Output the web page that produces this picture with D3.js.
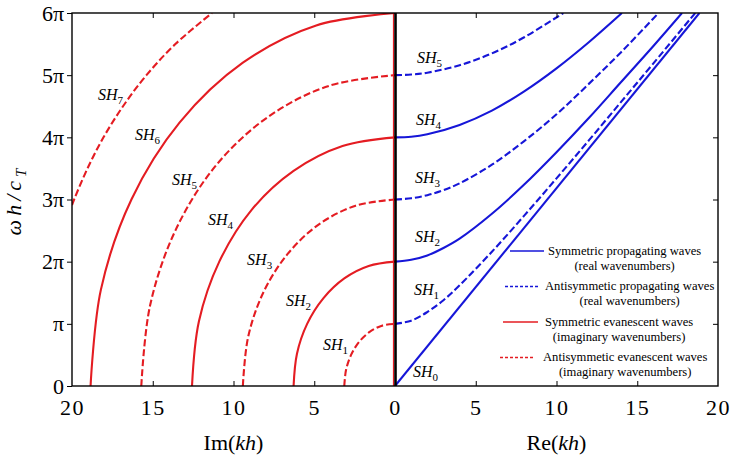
<!DOCTYPE html>
<html>
<head>
<meta charset="utf-8">
<script src="https://cdn.jsdelivr.net/npm/d3@7"></script>
<style>
  html, body { margin: 0; padding: 0; background: #fff; }
  svg { display: block; }
  svg text { font-family: "Liberation Serif", "Times New Roman", Times, Tinos, "Nimbus Roman", "Nimbus Roman No9 L", FreeSerif, "Noto Serif", "DejaVu Serif", serif !important; fill: #000; }
</style>
</head>
<body>
<svg id="chart" width="730" height="462"></svg>
<script>
// ---- data (kh, omega*h/(c_T*pi)) ----
const xTicksLeft = [20, 15, 10, 5, 0];
const xTicksRight = [5, 10, 15, 20];
const yTicks = [0, 1, 2, 3, 4, 5, 6];
const yTickLabels = ["0", "π", "2π", "3π", "4π", "5π", "6π"];

// propagating (real wavenumbers), right half
const propSH0 = [[0, 0], [18.85, 6]];
const propSH1 = [[0, 1], [1, 1.05], [2, 1.19], [3, 1.38], [4, 1.62], [6, 2.16], [8, 2.74], [10, 3.34], [12, 3.95], [14, 4.57], [16, 5.19], [18.59, 6]];
const propSH2 = [[0, 2], [1, 2.03], [2, 2.10], [3, 2.22], [4, 2.37], [6, 2.77], [8, 3.24], [10, 3.76], [12, 4.31], [14, 4.89], [16, 5.47], [17.77, 6]];
const propSH3 = [[0, 3], [1, 3.02], [2, 3.07], [3, 3.15], [4, 3.26], [6, 3.56], [8, 3.94], [10, 4.37], [12, 4.86], [14, 5.37], [16.32, 6]];
const propSH4 = [[0, 4], [1, 4.01], [2, 4.05], [4, 4.20], [6, 4.43], [8, 4.74], [10, 5.11], [12, 5.53], [14.05, 6]];
const propSH5 = [[0, 5], [1, 5.01], [2, 5.04], [4, 5.16], [6, 5.35], [8, 5.61], [10.42, 6]];

// evanescent (imaginary wavenumbers), left half
const evanSH1 = [[3.14, 0], [3.03, 0.26], [2.72, 0.5], [2.22, 0.71], [1.57, 0.87], [0.81, 0.97], [0, 1]];
const evanSH2 = [[6.28, 0], [6.07, 0.52], [5.44, 1], [4.44, 1.41], [3.14, 1.73], [1.63, 1.93], [0, 2]];
const evanSH3 = [[9.42, 0], [9.10, 0.78], [8.16, 1.5], [6.66, 2.12], [4.71, 2.60], [2.44, 2.90], [0, 3]];
const evanSH4 = [[12.57, 0], [12.14, 1.04], [10.88, 2], [8.89, 2.83], [6.28, 3.46], [3.25, 3.86], [0, 4]];
const evanSH5 = [[15.71, 0], [15.17, 1.29], [13.60, 2.5], [11.11, 3.54], [7.85, 4.33], [4.07, 4.83], [0, 5]];
const evanSH6 = [[18.85, 0], [18.21, 1.55], [16.32, 3], [13.33, 4.24], [9.42, 5.20], [4.88, 5.80], [0, 6]];
const evanSH7 = [[20, 2.91], [19.87, 3], [19.04, 3.5], [18.05, 4], [16.84, 4.5], [15.39, 5], [13.60, 5.5], [11.33, 6]];

const propagating = [propSH0, propSH1, propSH2, propSH3, propSH4, propSH5];
const evanescent = [null, evanSH1, evanSH2, evanSH3, evanSH4, evanSH5, evanSH6, evanSH7];

// mode labels: side, mode number, position in data units
const modeLabels = [
  { side: "L", n: 7, k: 18.39, w: 4.60 },
  { side: "L", n: 6, k: 16.10, w: 3.96 },
  { side: "L", n: 5, k: 13.81, w: 3.23 },
  { side: "L", n: 4, k: 11.58, w: 2.59 },
  { side: "L", n: 3, k: 9.16, w: 1.95 },
  { side: "L", n: 2, k: 6.75, w: 1.29 },
  { side: "L", n: 1, k: 4.46, w: 0.58 },
  { side: "R", n: 5, k: 1.36, w: 5.20 },
  { side: "R", n: 4, k: 1.30, w: 4.20 },
  { side: "R", n: 3, k: 1.24, w: 3.27 },
  { side: "R", n: 2, k: 1.24, w: 2.32 },
  { side: "R", n: 1, k: 1.18, w: 1.46 },
  { side: "R", n: 0, k: 1.11, w: 0.14 }
];

const legendItems = [
  { color: "blue", dashed: false, line1: "Symmetric propagating waves", line2: "(real wavenumbers)" },
  { color: "blue", dashed: true, line1: "Antisymmetic propagating waves", line2: "(real wavenumbers)" },
  { color: "red", dashed: false, line1: "Symmetric evanescent waves", line2: "(imaginary wavenumbers)" },
  { color: "red", dashed: true, line1: "Antisymmetic evanescent waves", line2: "(imaginary wavenumbers)" }
];

// ---- layout ----
const RED = "#e41c22", BLUE = "#1616d8";
const colorOf = c => c === "red" ? RED : BLUE;
const pLeft = 72, pRight = 718, pMid = 395, pTop = 13, pBottom = 386;

const svg = d3.select("#chart");
const xL = d3.scaleLinear().domain([20, 0]).range([pLeft, pMid]);
const xR = d3.scaleLinear().domain([0, 20]).range([pMid, pRight]);
const y = d3.scaleLinear().domain([0, 6]).range([pBottom, pTop]);

svg.append("rect").attr("width", 730).attr("height", 462).attr("fill", "#fff");

svg.append("defs").append("clipPath").attr("id", "plot")
  .append("rect").attr("x", pLeft).attr("y", pTop).attr("width", pRight - pLeft).attr("height", pBottom - pTop);

const plot = svg.append("g").attr("clip-path", "url(#plot)");

const lineL = d3.line().x(d => xL(d[0])).y(d => y(d[1])).curve(d3.curveCatmullRom.alpha(0.5));
const lineR = d3.line().x(d => xR(d[0])).y(d => y(d[1])).curve(d3.curveCatmullRom.alpha(0.5));

// red thin line along Im=0
plot.append("line").attr("x1", xL(0) - 1.5).attr("x2", xL(0) - 1.5).attr("y1", pTop).attr("y2", pBottom)
  .attr("stroke", RED).attr("stroke-width", 1.2);

evanescent.forEach((pts, n) => {
  if (!pts) return;
  plot.append("path").attr("d", lineL(pts)).attr("fill", "none")
    .attr("stroke", RED).attr("stroke-width", 2.1)
    .attr("stroke-dasharray", n % 2 === 1 ? "7,3" : null);
});
propagating.forEach((pts, n) => {
  plot.append("path").attr("d", lineR(pts)).attr("fill", "none")
    .attr("stroke", BLUE).attr("stroke-width", 2.1)
    .attr("stroke-dasharray", n % 2 === 1 ? "7,3" : null);
});

// central black line
svg.append("line").attr("x1", pMid + 0.5).attr("x2", pMid + 0.5).attr("y1", pTop).attr("y2", pBottom)
  .attr("stroke", "#000").attr("stroke-width", 2.6);

// frame
svg.append("rect").attr("x", pLeft).attr("y", pTop).attr("width", pRight - pLeft).attr("height", pBottom - pTop)
  .attr("fill", "none").attr("stroke", "#000").attr("stroke-width", 1.4);

// axes
function styleAxis(g) {
  g.select(".domain").remove();
  g.attr("font-family", null);
  g.selectAll(".tick line").attr("stroke", "#000").attr("stroke-width", 1);
}
const tickFont = g => g.selectAll(".tick text")
  .style("font-size", "22px").style("letter-spacing", "1.5px").attr("fill", "#000");

svg.append("g").attr("transform", `translate(0,${pBottom})`)
  .call(d3.axisBottom(xL).tickValues(xTicksLeft).tickSize(-5).tickPadding(13).tickFormat(d3.format("d")))
  .call(styleAxis).call(tickFont)
  .call(g => g.selectAll(".tick").filter(d => d === 0 || d === 20).select("line").remove());
svg.append("g").attr("transform", `translate(0,${pBottom})`)
  .call(d3.axisBottom(xR).tickValues(xTicksRight).tickSize(-5).tickPadding(13).tickFormat(d3.format("d")))
  .call(styleAxis).call(tickFont)
  .call(g => g.selectAll(".tick").filter(d => d === 20).select("line").remove());
svg.append("g").attr("transform", `translate(0,${pTop})`)
  .call(d3.axisTop(xL).tickValues([15, 10, 5]).tickSize(-5).tickFormat(""))
  .call(styleAxis);
svg.append("g").attr("transform", `translate(0,${pTop})`)
  .call(d3.axisTop(xR).tickValues([5, 10, 15]).tickSize(-5).tickFormat(""))
  .call(styleAxis);
svg.append("g").attr("transform", `translate(${pLeft},0)`)
  .call(d3.axisLeft(y).tickValues(yTicks).tickSize(5).tickPadding(3).tickFormat((d, i) => yTickLabels[i]))
  .call(styleAxis)
  .call(g => g.selectAll(".tick text").style("font-size", "22px").attr("fill", "#000"));
svg.append("g").attr("transform", `translate(${pRight},0)`)
  .call(d3.axisRight(y).tickValues(yTicks.slice(1, 6)).tickSize(-5).tickFormat(""))
  .call(styleAxis);

// axis titles
function kTitle(x, prefix) {
  const t = svg.append("text").attr("x", x).attr("y", 450).attr("text-anchor", "middle")
    .style("font-size", "22px");
  t.append("tspan").text(prefix + "(");
  t.append("tspan").style("font-style", "italic").text("kh");
  t.append("tspan").text(")");
}
kTitle(xL(10), "Im");
kTitle(xR(10), "Re");

const yt = svg.append("text").attr("transform", "translate(21,200) rotate(-90)")
  .attr("text-anchor", "middle").style("font-size", "22px").style("font-style", "italic")
  .style("letter-spacing", "4px");
yt.append("tspan").text("ωh/c");
yt.append("tspan").attr("dy", 5).style("font-size", "15px").text("T");

// mode labels
modeLabels.forEach(l => {
  const px = l.side === "L" ? xL(l.k) : xR(l.k);
  const t = svg.append("text").attr("x", px).attr("y", y(l.w)).style("font-size", "16px");
  t.append("tspan").style("font-style", "italic").text("SH");
  t.append("tspan").attr("dy", 4).style("font-size", "11px").text(l.n);
});

// legend
const legY0 = 251, legStep = 35.5;
const lineX = [[510, 544], [505, 540], [503, 538], [500, 535]];
const textX = [548, 545, 545, 543];
legendItems.forEach((it, i) => {
  const ly = legY0 + i * legStep;
  svg.append("line").attr("x1", lineX[i][0]).attr("x2", lineX[i][1]).attr("y1", ly).attr("y2", ly)
    .attr("stroke", colorOf(it.color)).attr("stroke-width", 1.6)
    .attr("stroke-dasharray", it.dashed ? "3,2" : null);
  const t1 = svg.append("text").attr("x", textX[i]).attr("y", ly + 3.5)
    .style("font-size", "12.6px").text(it.line1);
  const len = t1.node().getComputedTextLength();
  svg.append("text").attr("x", textX[i] + len / 2).attr("y", ly + 18.5).attr("text-anchor", "middle")
    .style("font-size", "12.6px").text(it.line2);
});
</script>
</body>
</html>
